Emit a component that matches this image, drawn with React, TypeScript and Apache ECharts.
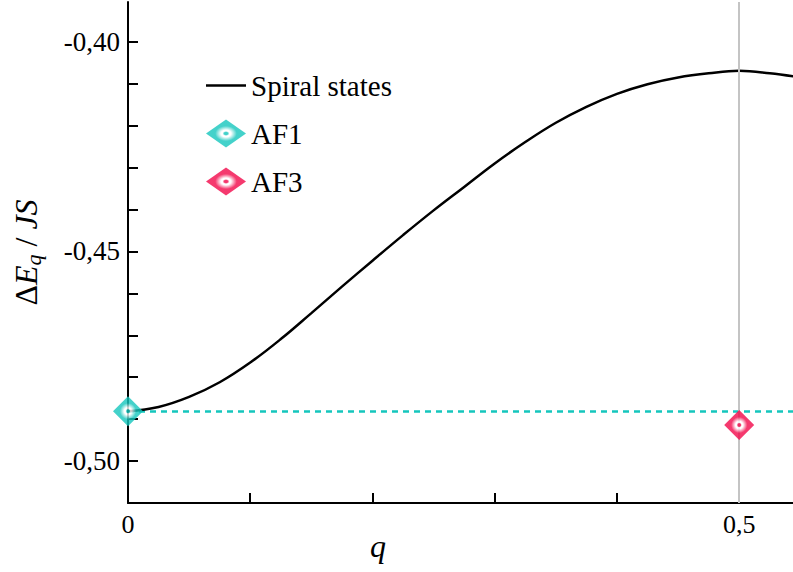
import React, { useEffect, useRef } from "react";
import * as echarts from "echarts";

// Wave vector q (x) and spiral-state energy ΔE_q/JS (y)
const qValues = [
  0, 0.025, 0.05, 0.075, 0.1, 0.125, 0.15, 0.175, 0.2, 0.225, 0.25, 0.275,
  0.3, 0.325, 0.35, 0.375, 0.4, 0.425, 0.45, 0.475, 0.5, 0.525, 0.55,
];
const spiralEnergy = [
  -0.4881, -0.4871, -0.4847, -0.4812, -0.4765, -0.4709, -0.4647, -0.4584,
  -0.4522, -0.4461, -0.4402, -0.4346, -0.429, -0.4239, -0.4193, -0.4155,
  -0.4124, -0.4101, -0.4085, -0.4075, -0.4069, -0.4075, -0.4085,
];
const af1Q = [0];
const af1Energy = [-0.4881];
const af3Q = [0.5];
const af3Energy = [-0.4914];

const xTickValues = [0, 0.1, 0.2, 0.3, 0.4, 0.5];
const xLabelValues = [0, 0.5];
const yTickValues = [-0.5, -0.49, -0.48, -0.47, -0.46, -0.45, -0.44, -0.43, -0.42, -0.41, -0.4];
const yLabelValues = [-0.5, -0.45, -0.4];

const FONT = "Liberation Serif, DejaVu Serif, serif";
const CYAN = "#15c6bd";
const RED = "#f2084a";

function markerFill(c: string) {
  return new echarts.graphic.RadialGradient(0.5, 0.5, 0.5, [
    { offset: 0, color: c },
    { offset: 0.09, color: c },
    { offset: 0.17, color: "#ffffff" },
    { offset: 0.25, color: "#ffffff" },
    { offset: 0.54, color: c },
    { offset: 1, color: c },
  ]);
}

export default function App() {
  const ref = useRef<HTMLDivElement>(null);
  useEffect(() => {
    document.body.style.margin = "0";
    if (!ref.current) return;
    const chart = echarts.init(ref.current, null, { renderer: "svg" });
    const option: any = {
      animation: false,
      backgroundColor: "#ffffff",
      grid: { left: 128, right: 0, top: 2, bottom: 69, outerBoundsMode: "none" },
      xAxis: {
        type: "value",
        min: 0,
        max: 0.544,
        axisLine: { show: true, lineStyle: { color: "#000", width: 2 } },
        axisTick: {
          show: true,
          inside: true,
          length: 10,
          customValues: xTickValues,
          lineStyle: { color: "#000", width: 2 },
        },
        axisLabel: {
          customValues: xLabelValues,
          margin: 8,
          color: "#000",
          fontFamily: FONT,
          fontSize: 26,
          formatter: (v: number) => (v === 0 ? "0" : v.toFixed(1).replace(".", ",")),
        },
        splitLine: { show: false },
      },
      yAxis: {
        type: "value",
        min: -0.51,
        max: -0.3905,
        axisLine: { show: true, lineStyle: { color: "#000", width: 2 } },
        axisTick: {
          show: true,
          inside: true,
          length: 10,
          customValues: yTickValues,
          lineStyle: { color: "#000", width: 2 },
        },
        axisLabel: {
          customValues: yLabelValues,
          margin: 8,
          color: "#000",
          fontFamily: FONT,
          fontSize: 27,
          formatter: (v: number) => v.toFixed(2).replace(".", ","),
        },
        splitLine: { show: false },
        name: "{d|Δ}{e|E}{s|q}{d| / }{e|JS}",
        nameLocation: "middle",
        nameRotate: 90,
        nameGap: 84,
        nameTextStyle: {
          color: "#000",
          rich: {
            d: { fontFamily: FONT, fontSize: 32, color: "#000" },
            e: { fontFamily: FONT, fontSize: 32, fontStyle: "italic", color: "#000" },
            s: {
              fontFamily: FONT,
              fontSize: 22,
              fontStyle: "italic",
              color: "#000",
              verticalAlign: "bottom",
              padding: [14, 0, 0, 0],
            },
          },
        },
      },
      legend: {
        orient: "vertical",
        left: 201,
        top: 66,
        itemWidth: 40,
        itemHeight: 28,
        itemGap: 19,
        textStyle: { color: "#000", fontFamily: FONT, fontSize: 29 },
        data: [
          { name: "Spiral states", icon: "path://M0,0 L40,0 L40,2.5 L0,2.5 Z" },
          "AF1",
          "AF3",
        ],
      },
      graphic: [
        {
          type: "text",
          left: 370,
          top: 530,
          style: { text: "q", font: `italic 32px ${FONT}`, fill: "#000" },
        },
      ],
      series: [
        {
          name: "q = 0.5 guide",
          type: "line",
          data: [],
          z: 1,
          silent: true,
          markLine: {
            silent: true,
            symbol: "none",
            label: { show: false },
            lineStyle: { color: "#c4c4c4", width: 2, type: "solid" },
            data: [{ xAxis: 0.5 }],
          },
        },
        {
          name: "Spiral states",
          type: "line",
          smooth: 0.4,
          symbol: "none",
          z: 3,
          lineStyle: { color: "#000", width: 2.5 },
          itemStyle: { color: "#000" },
          data: qValues.map((q, i) => [q, spiralEnergy[i]]),
        },
        {
          name: "AF1",
          type: "scatter",
          symbol: "diamond",
          symbolSize: 30,
          z: 5,
          itemStyle: { color: markerFill(CYAN) },
          data: af1Q.map((q, i) => [q, af1Energy[i]]),
          markLine: {
            silent: true,
            symbol: "none",
            precision: 5,
            label: { show: false },
            z: 2,
            lineStyle: { color: CYAN, width: 2.5, type: [6, 5] },
            data: [{ yAxis: af1Energy[0] }],
          },
        },
        {
          name: "AF3",
          type: "scatter",
          symbol: "diamond",
          symbolSize: 30,
          z: 5,
          itemStyle: { color: markerFill(RED) },
          data: af3Q.map((q, i) => [q, af3Energy[i]]),
        },
      ],
    };
    chart.setOption(option);
    return () => chart.dispose();
  }, []);
  return <div ref={ref} style={{ width: 793, height: 572 }} />;
}
